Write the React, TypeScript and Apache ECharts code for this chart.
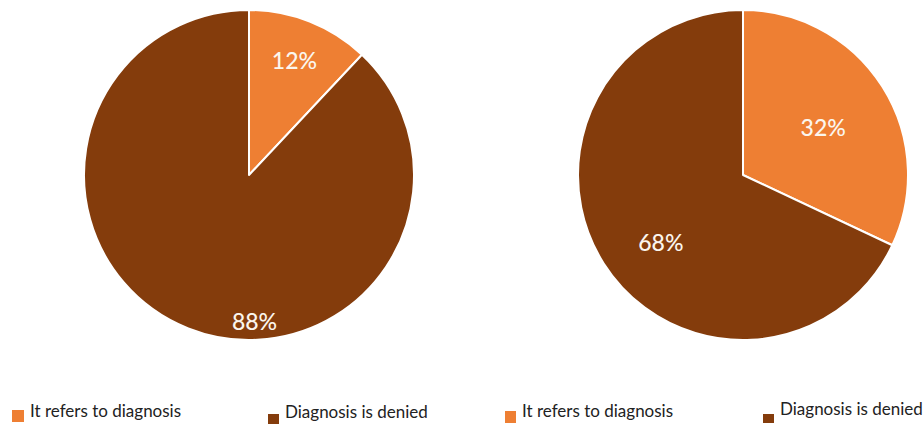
import React, { useEffect, useRef } from "react";
import * as echarts from "echarts";

const categories = ["It refers to diagnosis", "Diagnosis is denied"];
const leftValues = [12, 88];
const rightValues = [32, 68];
const colors = ["#EE7F33", "#843C0C"];

const FONT = "Lato, 'Open Sans', sans-serif";

export default function App() {
  const ref = useRef<HTMLDivElement>(null);
  useEffect(() => {
    if (!ref.current) return;
    const chart = echarts.init(ref.current, undefined, { renderer: "svg" });
    const mkData = (vals: number[], offsets: number[][]) =>
      vals.map((v, i) => ({
        name: categories[i],
        value: v,
        itemStyle: { color: colors[i] },
        label: { offset: offsets[i] },
      }));
    const labelStyle = {
      show: true,
      position: "inside",
      formatter: "{c}%",
      color: "#FBF6EE",
      fontSize: 23,
      fontFamily: FONT,
      fontWeight: 500,
    };
    const pieBase = {
      type: "pie",
      radius: 165,
      startAngle: 90,
      clockwise: true,
      silent: true,
      avoidLabelOverlap: false,
      itemStyle: { borderColor: "#ffffff", borderWidth: 2 },
      label: labelStyle,
      labelLine: { show: false },
      emphasis: { disabled: true },
    };
    const legendText = {
      fontFamily: FONT,
      fontSize: 17,
      color: "#222222",
    };
    // icon: square of width w and height s, pushed down by 2*o inside a box of height s+2o
    const mkLegend = (
      name: string,
      left: number,
      top: number,
      w: number,
      s: number,
      o: number
    ) => {
      const H = s + 2 * o;
      return {
        data: [name],
        left,
        top,
        orient: "horizontal",
        padding: 0,
        icon: `path://M0,0h0.05v0.05h-0.05ZM0,${2 * o}h${w}v${s}h-${w}Z`,
        symbolKeepAspect: false,
        itemWidth: w,
        itemHeight: H,
        selectedMode: false,
        textStyle: legendText,
      };
    };
    chart.setOption({
      animation: false,
      backgroundColor: "#ffffff",
      legend: [
        mkLegend(categories[0], 10, 396, 14, 14, 6),
        mkLegend(categories[1], 266, 396, 13, 12, 8),
        mkLegend(categories[0], 503, 395, 13, 14, 7),
        mkLegend(categories[1], 761, 392, 13, 11, 10),
      ],
      series: [
        {
          ...pieBase,
          name: "left",
          center: [249, 175],
          data: mkData(leftValues, [
            [14, -36],
            [37, 67],
          ]),
        },
        {
          ...pieBase,
          name: "right",
          center: [743, 175],
          data: mkData(rightValues, [
            [8, -2],
            [-10, 21],
          ]),
        },
      ],
    });
    return () => chart.dispose();
  }, []);
  return (
    <div
      ref={ref}
      style={{ position: "absolute", left: 0, top: 0, width: 923, height: 425 }}
    />
  );
}
